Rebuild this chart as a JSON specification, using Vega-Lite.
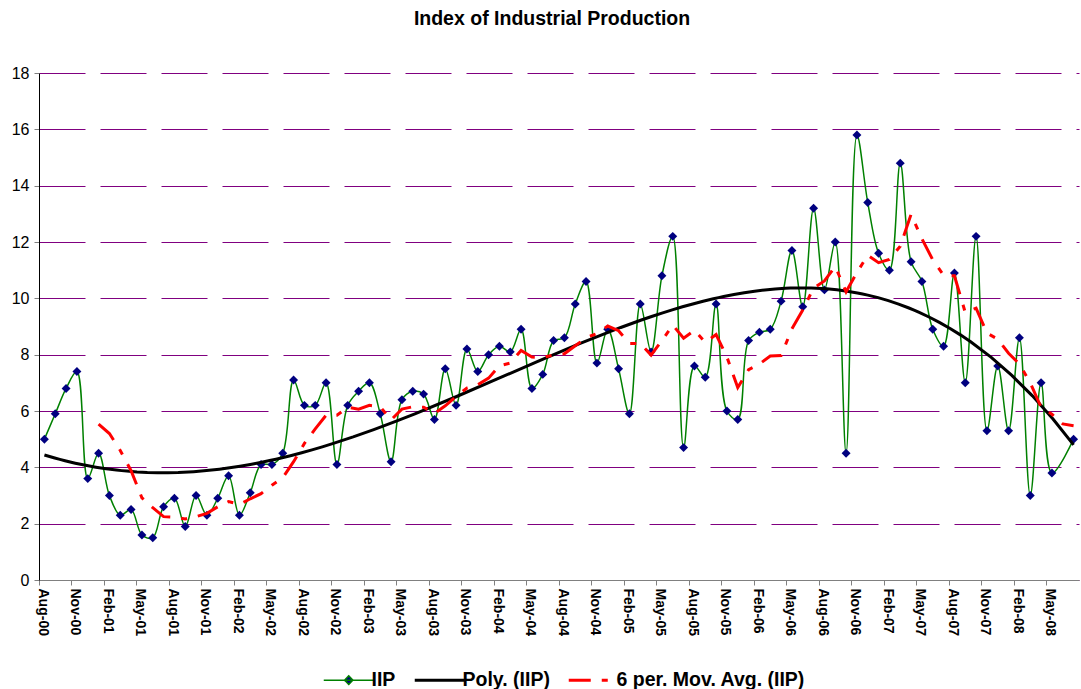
{
  "$schema": "https://vega.github.io/schema/vega-lite/v6.json",
  "width": 1040,
  "height": 507,
  "autosize": {"type": "none"},
  "padding": {"left": 39, "top": 73, "right": 2, "bottom": 109},
  "background": "white",
  "title": {
    "text": "Index of Industrial Production",
    "font": "Liberation Sans",
    "fontSize": 19.5,
    "fontWeight": "bold",
    "color": "#000000",
    "anchor": "middle",
    "offset": 36,
    "dx": -7
  },
  "config": {
    "view": {"stroke": null},
    "font": "Liberation Sans"
  },
  "data": {
    "values": [
      {"month": "Aug-00", "iip": 5.0}, {"month": "Sep-00", "iip": 5.9}, {"month": "Oct-00", "iip": 6.8}, {"month": "Nov-00", "iip": 7.4},
      {"month": "Dec-00", "iip": 3.6}, {"month": "Jan-01", "iip": 4.5}, {"month": "Feb-01", "iip": 3.0}, {"month": "Mar-01", "iip": 2.3},
      {"month": "Apr-01", "iip": 2.5}, {"month": "May-01", "iip": 1.6}, {"month": "Jun-01", "iip": 1.5}, {"month": "Jul-01", "iip": 2.6},
      {"month": "Aug-01", "iip": 2.9}, {"month": "Sep-01", "iip": 1.9}, {"month": "Oct-01", "iip": 3.0}, {"month": "Nov-01", "iip": 2.3},
      {"month": "Dec-01", "iip": 2.9}, {"month": "Jan-02", "iip": 3.7}, {"month": "Feb-02", "iip": 2.3}, {"month": "Mar-02", "iip": 3.1},
      {"month": "Apr-02", "iip": 4.1}, {"month": "May-02", "iip": 4.1}, {"month": "Jun-02", "iip": 4.5}, {"month": "Jul-02", "iip": 7.1},
      {"month": "Aug-02", "iip": 6.2}, {"month": "Sep-02", "iip": 6.2}, {"month": "Oct-02", "iip": 7.0}, {"month": "Nov-02", "iip": 4.1},
      {"month": "Dec-02", "iip": 6.2}, {"month": "Jan-03", "iip": 6.7}, {"month": "Feb-03", "iip": 7.0}, {"month": "Mar-03", "iip": 5.9},
      {"month": "Apr-03", "iip": 4.2}, {"month": "May-03", "iip": 6.4}, {"month": "Jun-03", "iip": 6.7}, {"month": "Jul-03", "iip": 6.6},
      {"month": "Aug-03", "iip": 5.7}, {"month": "Sep-03", "iip": 7.5}, {"month": "Oct-03", "iip": 6.2}, {"month": "Nov-03", "iip": 8.2},
      {"month": "Dec-03", "iip": 7.4}, {"month": "Jan-04", "iip": 8.0}, {"month": "Feb-04", "iip": 8.3}, {"month": "Mar-04", "iip": 8.1},
      {"month": "Apr-04", "iip": 8.9}, {"month": "May-04", "iip": 6.8}, {"month": "Jun-04", "iip": 7.3}, {"month": "Jul-04", "iip": 8.5},
      {"month": "Aug-04", "iip": 8.6}, {"month": "Sep-04", "iip": 9.8}, {"month": "Oct-04", "iip": 10.6}, {"month": "Nov-04", "iip": 7.7},
      {"month": "Dec-04", "iip": 8.9}, {"month": "Jan-05", "iip": 7.5}, {"month": "Feb-05", "iip": 5.9}, {"month": "Mar-05", "iip": 9.8},
      {"month": "Apr-05", "iip": 8.1}, {"month": "May-05", "iip": 10.8}, {"month": "Jun-05", "iip": 12.2}, {"month": "Jul-05", "iip": 4.7},
      {"month": "Aug-05", "iip": 7.6}, {"month": "Sep-05", "iip": 7.2}, {"month": "Oct-05", "iip": 9.8}, {"month": "Nov-05", "iip": 6.0},
      {"month": "Dec-05", "iip": 5.7}, {"month": "Jan-06", "iip": 8.5}, {"month": "Feb-06", "iip": 8.8}, {"month": "Mar-06", "iip": 8.9},
      {"month": "Apr-06", "iip": 9.9}, {"month": "May-06", "iip": 11.7}, {"month": "Jun-06", "iip": 9.7}, {"month": "Jul-06", "iip": 13.2},
      {"month": "Aug-06", "iip": 10.3}, {"month": "Sep-06", "iip": 12.0}, {"month": "Oct-06", "iip": 4.5}, {"month": "Nov-06", "iip": 15.8},
      {"month": "Dec-06", "iip": 13.4}, {"month": "Jan-07", "iip": 11.6}, {"month": "Feb-07", "iip": 11.0}, {"month": "Mar-07", "iip": 14.8},
      {"month": "Apr-07", "iip": 11.3}, {"month": "May-07", "iip": 10.6}, {"month": "Jun-07", "iip": 8.9}, {"month": "Jul-07", "iip": 8.3},
      {"month": "Aug-07", "iip": 10.9}, {"month": "Sep-07", "iip": 7.0}, {"month": "Oct-07", "iip": 12.2}, {"month": "Nov-07", "iip": 5.3},
      {"month": "Dec-07", "iip": 7.6}, {"month": "Jan-08", "iip": 5.3}, {"month": "Feb-08", "iip": 8.6}, {"month": "Mar-08", "iip": 3.0},
      {"month": "Apr-08", "iip": 7.0}, {"month": "May-08", "iip": 3.8}, {"month": "Jun-08", "iip": null}, {"month": "Jul-08", "iip": 5.0}
    ]
  },
  "transform": [
    {"window": [{"op": "row_number", "as": "t"}]}
  ],
  "encoding": {
    "x": {
      "field": "t",
      "type": "quantitative",
      "scale": {"domain": [0.5, 96.5], "nice": false, "zero": false},
      "axis": {
        "title": null,
        "grid": false,
        "values": [1, 4, 7, 10, 13, 16, 19, 22, 25, 28, 31, 34, 37, 40, 43, 46, 49, 52, 55, 58, 61, 64, 67, 70, 73, 76, 79, 82, 85, 88, 91, 94],
        "labelExpr": "['Jan','Feb','Mar','Apr','May','Jun','Jul','Aug','Sep','Oct','Nov','Dec'][(datum.value + 6) % 12] + '-' + (floor((datum.value + 6) / 12) < 10 ? '0' : '') + floor((datum.value + 6) / 12)",
        "labelAngle": 90,
        "labelAlign": "left",
        "labelBaseline": "middle",
        "labelFont": "Liberation Sans",
        "labelFontSize": 14,
        "labelFontWeight": "bold",
        "labelColor": "#000000",
        "labelPadding": 3,
        "labelOffset": 3.5,
        "tickOffset": -5.42,
        "tickSize": 5,
        "tickColor": "#808080",
        "domainColor": "#808080",
        "labelOverlap": false
      }
    },
    "y": {
      "field": "iip",
      "type": "quantitative",
      "scale": {"domain": [0, 18], "nice": false},
      "axis": {
        "title": null,
        "values": [0, 2, 4, 6, 8, 10, 12, 14, 16, 18],
        "grid": true,
        "gridColor": "#800080",
        "gridDash": [46, 15],
        "gridWidth": 1,
        "gridOpacity": 1,
        "labelFont": "Liberation Sans",
        "labelFontSize": 16,
        "labelColor": "#000000",
        "labelPadding": 5,
        "tickSize": 5,
        "tickColor": "#808080",
        "domainColor": "#000000"
      }
    }
  },
  "layer": [
    {
      "mark": {"type": "line", "interpolate": "catmull-rom", "strokeWidth": 1.5, "invalid": "filter"},
      "encoding": {
        "color": {
          "datum": "IIP",
          "type": "nominal",
          "scale": {
            "domain": ["IIP", "Poly. (IIP)", "6 per. Mov. Avg. (IIP)"],
            "range": ["#008000", "#000000", "#FF0000"]
          },
          "legend": {
            "orient": "none",
            "legendX": 300,
            "legendY": 597,
            "direction": "horizontal",
            "title": null,
            "symbolSize": 10000,
            "labelFont": "Liberation Sans",
            "labelFontSize": 19.5,
            "labelFontWeight": "bold",
            "labelColor": "#000000",
            "labelOffset": 13,
            "columnPadding": 12,
            "labelLimit": 400,
            "encode": {
              "symbols": {
                "update": {
                  "shape": {"signal": "datum.value === 'IIP' ? 'M-0.5,0H0.5M0,-0.085L0.085,0L0,0.085L-0.085,0Z' : 'M-0.5,0H0.5'"},
                  "fill": {"signal": "datum.value === 'IIP' ? '#000080' : 'transparent'"},
                  "stroke": {"signal": "datum.value === 'IIP' ? '#008000' : (datum.value === 'Poly. (IIP)' ? '#000000' : '#FF0000')"},
                  "strokeWidth": {"signal": "datum.value === 'IIP' ? 1.5 : 3"},
                  "strokeDash": {"signal": "datum.value === '6 per. Mov. Avg. (IIP)' ? [22, 11, 6, 11] : [1, 0]"},
                  "opacity": {"value": 1}
                }
              }
            }
          }
        }
      }
    },
    {
      "mark": {"type": "point", "shape": "diamond", "filled": true, "size": 80, "color": "#000080", "opacity": 1, "strokeWidth": 0}
    },
    {
      "transform": [
        {"filter": "isValid(datum.iip)"},
        {"regression": "iip", "on": "t", "method": "poly", "order": 4}
      ],
      "mark": {"type": "line", "strokeWidth": 3},
      "encoding": {
        "color": {"datum": "Poly. (IIP)", "type": "nominal"}
      }
    },
    {
      "transform": [
        {"window": [{"op": "mean", "field": "iip", "as": "ma"}, {"op": "count", "as": "n"}], "frame": [-5, 0], "sort": [{"field": "t", "order": "ascending"}]},
        {"filter": "datum.n >= 6"}
      ],
      "mark": {"type": "line", "strokeWidth": 3, "strokeDash": [22, 11, 6, 11]},
      "encoding": {
        "y": {"field": "ma", "type": "quantitative"},
        "color": {"datum": "6 per. Mov. Avg. (IIP)", "type": "nominal"}
      }
    }
  ]
}
